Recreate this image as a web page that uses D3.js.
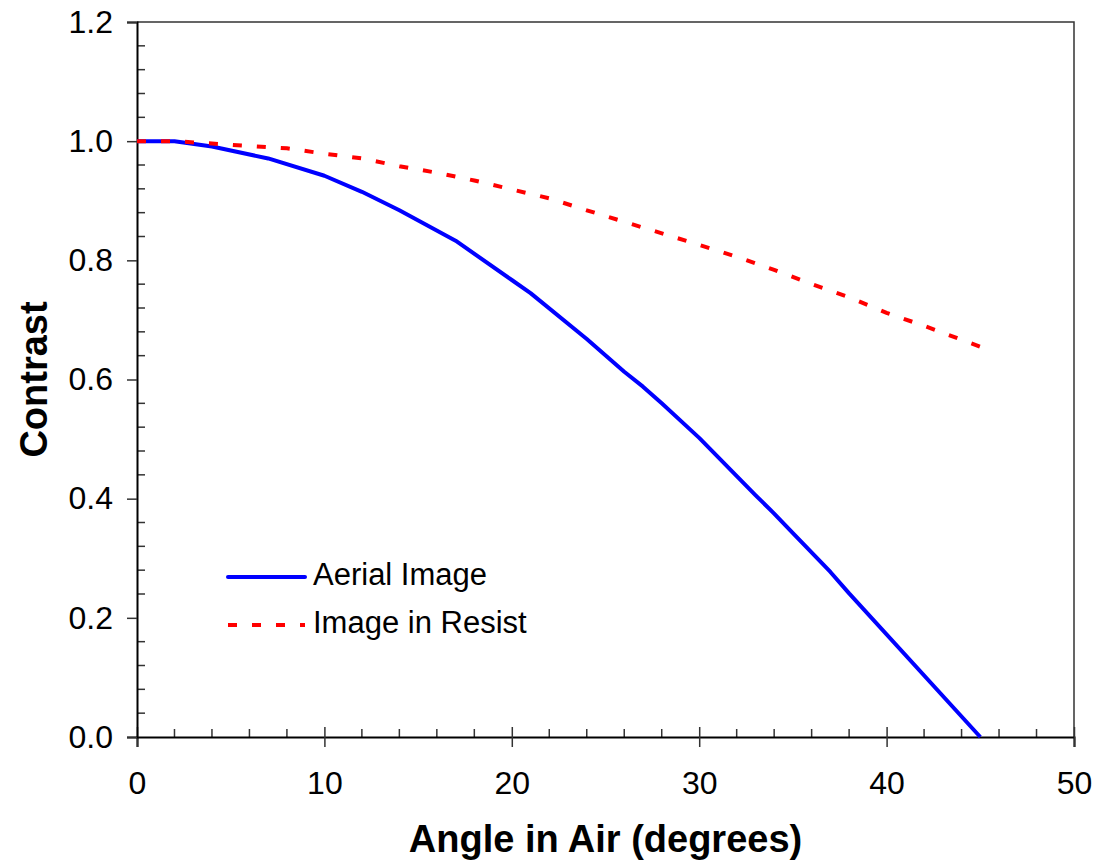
<!DOCTYPE html>
<html>
<head>
<meta charset="utf-8">
<script src="https://cdn.jsdelivr.net/npm/d3@7"></script>
<style>
  body { margin: 0; background: #fff; }
  svg { display: block; }
  text { font-family: "Liberation Sans", Arial, sans-serif; fill: #000; }
</style>
</head>
<body>
<svg id="chart" width="1099" height="867"></svg>
<script>
// data
var aerialAngle = [0, 2, 4, 7, 10, 12, 14, 17, 20, 21, 24, 26, 27, 28, 30, 33, 34, 35, 37, 38, 45];
var aerialContrast = [1.0, 1.0, 0.991, 0.971, 0.942, 0.915, 0.884, 0.833, 0.767, 0.745, 0.668, 0.613, 0.588, 0.560, 0.502, 0.406, 0.375, 0.342, 0.277, 0.241, 0.0];

var resistAngle = [0, 2, 4, 6, 8, 10, 12, 14, 16, 18, 20, 22, 24, 27, 30, 32, 34, 36, 38, 40, 42, 45];
var resistContrast = [1.0, 1.0, 0.996, 0.992, 0.988, 0.979, 0.971, 0.958, 0.947, 0.934, 0.919, 0.904, 0.884, 0.855, 0.826, 0.806, 0.784, 0.760, 0.738, 0.712, 0.690, 0.655];

var xTicks = [0, 10, 20, 30, 40, 50];
var yTicks = [0, 0.2, 0.4, 0.6, 0.8, 1.0, 1.2];
var seriesNames = ["Aerial Image", "Image in Resist"];

// SECTION: setup

var svg = d3.select("#chart");
var margin = {top: 22, right: 25, bottom: 130, left: 137};
var width = 1099 - margin.left - margin.right,
    height = 867 - margin.top - margin.bottom;

var g = svg.append("g").attr("transform", "translate(" + margin.left + "," + margin.top + ")");

var x = d3.scaleLinear().domain([0, 50]).range([0, width]);
var y = d3.scaleLinear().domain([0, 1.2]).range([height, 0]);

// plot box (top + right)
g.append("path")
  .attr("d", "M0,0H" + width + "V" + height)
  .attr("fill", "none")
  .attr("stroke", "#333")
  .attr("stroke-width", 1.5);

// minor ticks, inside
var xMinor = d3.range(0, 50.01, 2).filter(function(d) { return d % 10 != 0; });
var yMinor = d3.range(0, 1.2001, 0.04).filter(function(d) { return Math.abs(d / 0.2 - Math.round(d / 0.2)) > 0.01; });

g.append("g").selectAll("line").data(xMinor).enter().append("line")
  .attr("x1", function(d) { return x(d); }).attr("x2", function(d) { return x(d); })
  .attr("y1", height).attr("y2", height - 8)
  .attr("stroke", "#333").attr("stroke-width", 1.5);

g.append("g").selectAll("line").data(yMinor).enter().append("line")
  .attr("x1", 0).attr("x2", 8)
  .attr("y1", function(d) { return y(d); }).attr("y2", function(d) { return y(d); })
  .attr("stroke", "#333").attr("stroke-width", 1.5);

// x axis: major ticks cross the line
var xAxis = g.append("g").attr("transform", "translate(0," + height + ")")
  .call(d3.axisBottom(x).tickValues(xTicks).tickSize(10).tickPadding(24).tickFormat(d3.format("d")));
xAxis.select(".domain").attr("stroke", "#000").attr("stroke-width", 2);
xAxis.selectAll(".tick line").attr("y1", -10).attr("y2", 10).attr("stroke", "#333").attr("stroke-width", 1.5);
xAxis.selectAll(".tick text").attr("font-size", 32).attr("font-family", "Liberation Sans, Arial, sans-serif").attr("fill", "#000");

// y axis
var yAxis = g.append("g")
  .call(d3.axisLeft(y).tickValues(yTicks).tickSize(10).tickPadding(14).tickFormat(d3.format(".1f")));
yAxis.select(".domain").attr("stroke", "#000").attr("stroke-width", 2);
yAxis.selectAll(".tick line").attr("stroke", "#333").attr("stroke-width", 1.5);
yAxis.selectAll(".tick text").attr("font-size", 32).attr("font-family", "Liberation Sans, Arial, sans-serif").attr("fill", "#000");

// SECTION: lines

var line = d3.line()
  .x(function(d) { return x(d[0]); })
  .y(function(d) { return y(d[1]); });

var aerial = d3.zip(aerialAngle, aerialContrast);
var resist = d3.zip(resistAngle, resistContrast);

g.append("path").datum(aerial)
  .attr("d", line)
  .attr("fill", "none")
  .attr("stroke", "#0000ff")
  .attr("stroke-width", 4)
  .attr("stroke-linejoin", "round");

g.append("path").datum(resist)
  .attr("d", line)
  .attr("fill", "none")
  .attr("stroke", "#ff0000")
  .attr("stroke-width", 4)
  .attr("stroke-dasharray", "9,15");

// SECTION: legend

var legend = svg.append("g").attr("transform", "translate(228,577)");
var styles = [
  {color: "#0000ff", dash: null},
  {color: "#ff0000", dash: "9,15"}
];
seriesNames.forEach(function(name, i) {
  var row = legend.append("g").attr("transform", "translate(0," + (i * 48) + ")");
  row.append("line")
    .attr("x1", 0).attr("x2", 77).attr("y1", 0).attr("y2", 0)
    .attr("stroke", styles[i].color)
    .attr("stroke-width", 4)
    .attr("stroke-linecap", i == 0 ? "round" : "butt")
    .attr("stroke-dasharray", styles[i].dash);
  row.append("text")
    .attr("x", 85).attr("y", 8)
    .attr("font-size", 31)
    .text(name);
});

// SECTION: titles

svg.append("text")
  .attr("x", margin.left + width / 2)
  .attr("y", 852)
  .attr("text-anchor", "middle")
  .attr("font-size", 38)
  .attr("font-weight", "bold")
  .text("Angle in Air (degrees)");

svg.append("text")
  .attr("transform", "translate(47," + (margin.top + height / 2) + ") rotate(-90)")
  .attr("text-anchor", "middle")
  .attr("font-size", 38)
  .attr("font-weight", "bold")
  .text("Contrast");
</script>
</body>
</html>
